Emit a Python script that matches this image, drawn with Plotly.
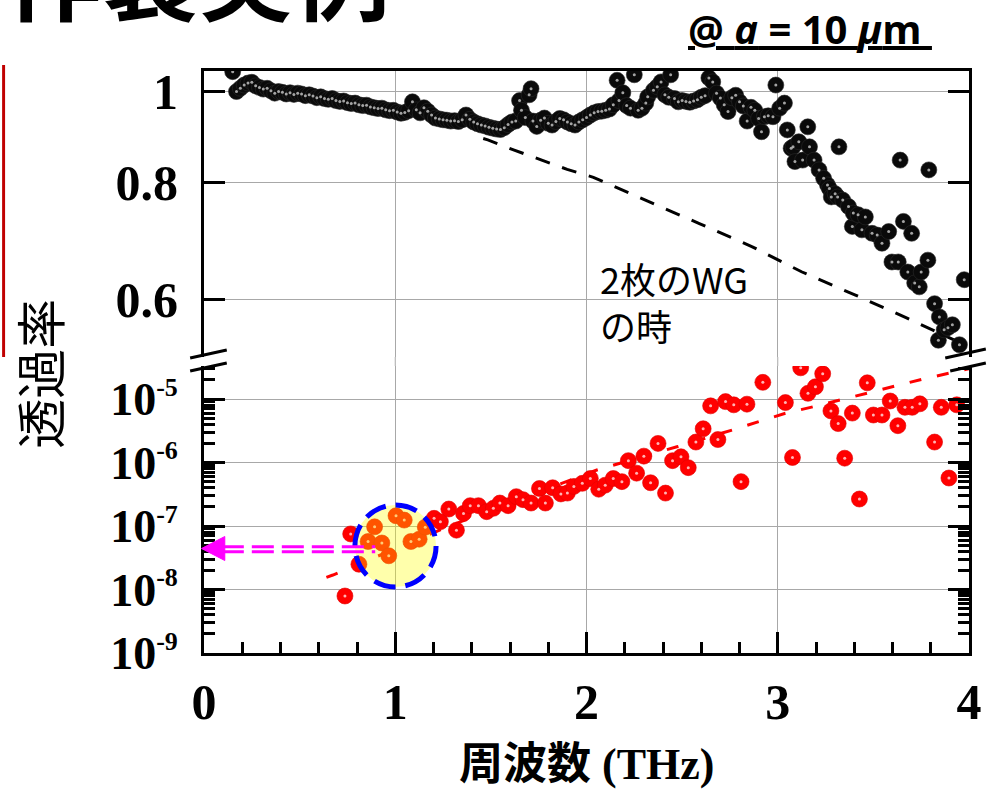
import plotly.graph_objects as go

# ---------------- data ----------------
black_x = [0.15, 0.17, 0.19, 0.21, 0.23, 0.25, 0.27, 0.29, 0.31, 0.33, 0.35, 0.37, 0.39, 0.41, 0.43, 0.45,
           0.47, 0.49, 0.51, 0.53, 0.55, 0.57, 0.59, 0.61, 0.63, 0.65, 0.67, 0.69, 0.71, 0.73, 0.75, 0.77,
           0.79, 0.81, 0.83, 0.85, 0.87, 0.89, 0.91, 0.93, 0.95, 0.97, 0.99, 1.01, 1.03, 1.05, 1.07, 1.09,
           1.11, 1.13, 1.15, 1.17, 1.19, 1.21, 1.23, 1.25, 1.27, 1.29, 1.31, 1.33, 1.35, 1.37, 1.39, 1.41,
           1.43, 1.45, 1.47, 1.49, 1.51, 1.53, 1.55, 1.57, 1.59, 1.61, 1.63, 1.65, 1.66, 1.68, 1.70, 1.71,
           1.72, 1.74, 1.76, 1.78, 1.80, 1.82, 1.84, 1.86, 1.88, 1.90, 1.92, 1.94, 1.96, 1.98, 2.00, 2.02,
           2.04, 2.06, 2.08, 2.10, 2.12, 2.14, 2.16, 2.17, 2.19, 2.21, 2.23, 2.25, 2.27, 2.29, 2.31, 2.32,
           2.35, 2.37, 2.39, 2.41, 2.43, 2.44, 2.46, 2.48, 2.50, 2.52, 2.54, 2.56, 2.58, 2.60, 2.62, 2.64,
           2.66, 2.68, 2.70, 2.72, 2.74, 2.76, 2.78, 2.80, 2.82, 2.84, 2.86, 2.88, 2.90, 2.915, 2.93, 2.95,
           2.975, 2.99, 3.01, 3.035, 3.05, 3.07, 3.08, 3.09, 3.11, 3.13, 3.157, 3.166, 3.19, 3.216, 3.24,
           3.26, 3.27, 3.28, 3.30, 3.313, 3.32, 3.34, 3.37, 3.39, 3.395, 3.42, 3.44, 3.458, 3.493, 3.52,
           3.545, 3.58, 3.597, 3.63, 3.64, 3.657, 3.68, 3.70, 3.716, 3.74, 3.75, 3.785, 3.79, 3.82, 3.84,
           3.845, 3.87, 3.89, 3.913, 3.95, 3.975]
black_y = [1.050, 1.000, 1.008, 1.016, 1.021, 1.023, 1.014, 1.010, 1.006, 1.008, 1.002, 0.996, 1.000, 0.998,
           0.994, 0.997, 0.993, 0.996, 0.994, 0.990, 0.992, 0.989, 0.985, 0.987, 0.983, 0.981, 0.983, 0.978,
           0.976, 0.977, 0.973, 0.971, 0.972, 0.968, 0.966, 0.967, 0.963, 0.961, 0.959, 0.960, 0.956, 0.954,
           0.955, 0.951, 0.948, 0.950, 0.954, 0.975, 0.956, 0.949, 0.961, 0.953, 0.944, 0.937, 0.935, 0.933,
           0.932, 0.930, 0.931, 0.929, 0.933, 0.944, 0.934, 0.928, 0.924, 0.921, 0.919, 0.916, 0.914, 0.912,
           0.911, 0.915, 0.922, 0.928, 0.930, 0.978, 0.955, 0.938, 0.992, 1.007, 0.930, 0.918, 0.932, 0.937,
           0.925, 0.921, 0.929, 0.936, 0.933, 0.928, 0.924, 0.921, 0.928, 0.933, 0.938, 0.944, 0.949, 0.952,
           0.953, 0.955, 0.958, 0.968, 1.028, 0.978, 0.997, 0.966, 0.960, 1.042, 0.955, 0.960, 0.972, 0.987,
           1.003, 1.012, 1.024, 0.992, 0.986, 1.042, 0.983, 0.975, 0.978, 0.976, 0.974, 0.977, 0.980, 0.986,
           0.990, 1.034, 1.024, 0.996, 0.984, 0.968, 0.952, 0.985, 0.991, 0.975, 0.965, 0.930, 0.962, 0.955,
           0.936, 0.906, 0.940, 0.942, 0.940, 1.016, 0.960, 0.972, 0.910, 0.870, 0.873, 0.842, 0.884, 0.845,
           0.917, 0.873, 0.845, 0.825, 0.808, 0.795, 0.788, 0.772, 0.778, 0.772, 0.873, 0.766, 0.754, 0.718,
           0.742, 0.739, 0.712, 0.735, 0.706, 0.703, 0.689, 0.709, 0.658, 0.658, 0.845, 0.727, 0.642, 0.706,
           0.625, 0.619, 0.642, 0.661, 0.825, 0.594, 0.543, 0.575, 0.557, 0.560, 0.564, 0.537, 0.630]

red_x = [0.737, 0.767, 0.81, 0.858, 0.892, 0.93, 0.966, 1.004, 1.047, 1.082, 1.125, 1.157, 1.203, 1.236,
         1.28, 1.32, 1.357, 1.392, 1.435, 1.478, 1.513, 1.547, 1.59, 1.633, 1.668, 1.71, 1.754, 1.785,
         1.823, 1.866, 1.90, 1.934, 1.978, 2.02, 2.064, 2.098, 2.14, 2.185, 2.219, 2.262, 2.30, 2.335,
         2.374, 2.413, 2.45, 2.494, 2.532, 2.572, 2.61, 2.649, 2.687, 2.727, 2.77, 2.808, 2.839, 2.922,
         3.04, 3.077, 3.12, 3.158, 3.197, 3.235, 3.278, 3.316, 3.35, 3.39, 3.427, 3.468, 3.50, 3.545,
         3.588, 3.628, 3.665, 3.703, 3.743, 3.82, 3.855, 3.895, 3.936]
red_y = [7.9e-9, 7.5e-8, 2.5e-8, 5.7e-8, 9.7e-8, 5.4e-8, 3.4e-8, 1.45e-7, 1.24e-7, 5.7e-8, 6.2e-8, 9.6e-8,
         1.32e-7, 1.17e-7, 1.85e-7, 8.6e-8, 1.58e-7, 2.09e-7, 2.09e-7, 1.68e-7, 1.9e-7, 2.3e-7, 2.09e-7,
         2.9e-7, 2.6e-7, 2.3e-7, 3.9e-7, 2.3e-7, 4.0e-7, 3.2e-7, 3.3e-7, 4.2e-7, 4.7e-7, 5.6e-7, 3.8e-7,
         4.4e-7, 5.6e-7, 5.0e-7, 1.07e-6, 6.8e-7, 1.26e-6, 4.8e-7, 2.0e-6, 3.3e-7, 1.07e-6, 1.23e-6, 8.3e-7,
         2.1e-6, 3.4e-6, 7.8e-6, 2.3e-6, 9.1e-6, 8.1e-6, 5.0e-7, 8.3e-6, 1.83e-5, 8.8e-6, 1.2e-6, 3.1e-5,
         1.23e-5, 1.56e-5, 2.5e-5, 6.5e-6, 4.1e-6, 1.17e-6, 6.0e-6, 2.66e-7, 1.8e-5, 5.6e-6, 5.6e-6, 9.3e-6,
         3.8e-6, 7.4e-6, 7.4e-6, 8.4e-6, 2.1e-6, 7.4e-6, 5.7e-7, 8.1e-6]

wg2_x = [1.46, 1.484, 1.622, 1.759, 1.899, 2.036, 2.313, 2.59, 2.867, 3.127, 3.403, 3.679, 3.95]
wg2_y = [0.891, 0.888, 0.866, 0.846, 0.826, 0.810, 0.766, 0.723, 0.683, 0.642, 0.607, 0.573, 0.540]

fit_x = [0.64, 0.674, 1.30, 1.911, 2.054, 2.184, 2.473, 2.762, 2.897, 3.04, 3.187, 3.329, 3.472, 3.614,
         3.752, 3.913, 4.0]
fit_y = [1.55e-8, 1.69e-8, 1.05e-7, 5.30e-7, 7.62e-7, 9.93e-7, 1.77e-6, 3.25e-6, 4.40e-6, 5.96e-6,
         7.57e-6, 9.64e-6, 1.26e-5, 1.60e-5, 2.04e-5, 2.63e-5, 3.0e-5]

top_ticks = [0.6, 0.8, 1.0]
top_ticktext = ["0.6", "0.8", "1"]
bot_ticks = [1e-9, 1e-8, 1e-7, 1e-6, 1e-5]
bot_ticktext = ["10<sup><span style='font-size:26px'>-9</span></sup>",
                "10<sup><span style='font-size:26px'>-8</span></sup>",
                "10<sup><span style='font-size:26px'>-7</span></sup>",
                "10<sup><span style='font-size:26px'>-6</span></sup>",
                "10<sup><span style='font-size:26px'>-5</span></sup>"]
x_ticks = [0, 1, 2, 3, 4]
x_ticktext = ["0", "1", "2", "3", "4"]

# ---------------- geometry helpers (pixels -> paper) ----------------
W, H = 994, 792
L, R, T, B = 204, 977, 71, 653


def PX(px):
    return (px - L) / (R - L)


def PY(py):
    return (B - py) / (B - T)


bottom_dom = [0, PY(366)]
top_dom = [PY(357), 1]

serif = "Liberation Serif, Times New Roman, serif"
cjk = "Noto Sans CJK JP"

fig = go.Figure()

# top panel
fig.add_trace(go.Scatter(x=wg2_x, y=wg2_y, xaxis="x2", yaxis="y2", mode="lines",
                         line=dict(color="black", width=3, dash="15px,13px"), hoverinfo="skip"))
fig.add_trace(go.Scatter(x=black_x, y=black_y, xaxis="x2", yaxis="y2", mode="markers",
                         marker=dict(size=16, color="#0a0a0a", line=dict(color="#2a2a2a", width=0.6))))
fig.add_trace(go.Scatter(x=black_x, y=black_y, xaxis="x2", yaxis="y2", mode="markers",
                         marker=dict(size=3, color="rgba(190,190,190,0.85)", line=dict(width=0))))

# bottom panel
fig.add_trace(go.Scatter(x=fit_x, y=fit_y, xaxis="x", yaxis="y", mode="lines",
                         line=dict(color="#ff0000", width=3, dash="12px,16px"), hoverinfo="skip"))
fig.add_trace(go.Scatter(x=red_x, y=red_y, xaxis="x", yaxis="y", mode="markers",
                         marker=dict(size=16, color="#ff0000", line=dict(color="#e00000", width=0.6))))
fig.add_trace(go.Scatter(x=red_x, y=red_y, xaxis="x", yaxis="y", mode="markers",
                         marker=dict(size=3, color="rgba(255,200,200,0.9)", line=dict(width=0))))

axis_common = dict(showline=True, linecolor="black", linewidth=3, gridcolor="#a8a8a8", gridwidth=1,
                   zeroline=False, tickcolor="black")

fig.update_layout(
    width=W, height=H,
    margin=dict(l=L, r=W - R, t=T, b=H - B),
    paper_bgcolor="white", plot_bgcolor="white",
    showlegend=False,
    xaxis=dict(domain=[0, 1], anchor="y", range=[0, 4], tickvals=x_ticks, ticktext=x_ticktext,
               ticks="inside", ticklen=21, tickwidth=3, mirror=False, showgrid=True,
               minor=dict(ticks="inside", ticklen=11, tickwidth=2.5, tickcolor="black", dtick=0.2,
                          tick0=0, showgrid=False),
               tickfont=dict(family=serif, size=50, color="black", weight="bold"),
               ticklabelstandoff=3, **axis_common),
    xaxis2=dict(domain=[0, 1], anchor="y2", range=[0, 4], side="top", tickvals=x_ticks,
                ticks="", showticklabels=False, mirror=False, showgrid=True, matches="x", **axis_common),
    yaxis=dict(domain=bottom_dom, anchor="x", type="log", range=[-9, -4.48], tickvals=bot_ticks,
               ticktext=bot_ticktext, ticks="inside", ticklen=21, tickwidth=3, mirror="ticks",
               showgrid=True,
               minor=dict(ticks="inside", ticklen=11, tickwidth=2.5, tickcolor="black",
                          tickvals=[m * 10.0 ** e for e in range(-9, -4) for m in range(2, 10)],
                          showgrid=False),
               tickfont=dict(family=serif, size=46, color="black", weight="bold"),
               ticklabelstandoff=14, **axis_common),
    yaxis2=dict(domain=top_dom, anchor="x2", type="log", range=[-0.2831, 0.0219], tickvals=top_ticks,
                ticktext=top_ticktext, ticks="inside", ticklen=21, tickwidth=3, mirror="ticks",
                showgrid=True, tickfont=dict(family=serif, size=50, color="black", weight="bold"),
                ticklabelstandoff=13, **axis_common),
)

shapes = []
# highlighted region (semi-transparent yellow, blue dashed border)
cx, cy, rad = 397.5, 546, 41
shapes.append(dict(type="circle", xref="paper", yref="paper", layer="above",
                   x0=PX(cx - rad), x1=PX(cx + rad), y0=PY(cy + rad), y1=PY(cy - rad),
                   fillcolor="rgba(255,255,0,0.33)", line=dict(color="#0000ff", width=5, dash="22px,10px")))
# magenta double dashed arrow
for yy in (546.7, 551.7):
    shapes.append(dict(type="line", xref="paper", yref="paper", layer="above",
                       x0=PX(222), x1=PX(377), y0=PY(yy), y1=PY(yy),
                       line=dict(color="#ff00ff", width=3, dash="22px,8px")))
shapes.append(dict(type="path", xref="paper", yref="paper", layer="above",
                   path=f"M {PX(201.5)},{PY(548.5)} L {PX(225)},{PY(536.5)} L {PX(225)},{PY(560.5)} Z",
                   fillcolor="#ff00ff", line=dict(color="#ff00ff", width=1)))
# axis break marks
for (x0, y0, x1, y1) in [(190, 358, 227, 350), (190, 371, 227, 363), (953, 358, 994, 349),
                         (958, 371, 994, 363)]:
    shapes.append(dict(type="line", xref="paper", yref="paper", layer="above",
                       x0=PX(x0), y0=PY(y0), x1=PX(x1), y1=PY(y1), line=dict(color="black", width=3)))
# grid continuation through the break
for gx in (1, 2, 3):
    shapes.append(dict(type="line", xref="x", yref="paper", layer="below", x0=gx, x1=gx,
                       y0=PY(366), y1=PY(357), line=dict(color="#a8a8a8", width=1)))
# red slide decoration bar
shapes.append(dict(type="rect", xref="paper", yref="paper", x0=PX(0), x1=PX(3), y0=PY(357), y1=PY(65),
                   fillcolor="#c00000", line=dict(width=0)))
fig.update_layout(shapes=shapes)

annotations = [
    dict(text="2枚のWG<br>の時", x=PX(602), y=PY(301), xref="paper", yref="paper", xanchor="left",
         yanchor="middle", align="left", showarrow=False,
         font=dict(family=cjk, size=36, color="black")),
    dict(text="<b><u>@ <i>a</i> = 10 <i>μ</i>m </u></b>", x=PX(816), y=PY(28), xref="paper", yref="paper",
         xanchor="center", yanchor="middle", showarrow=False,
         font=dict(family="Open Sans, Noto Sans, sans-serif", size=40, color="black")),
    dict(text="透過率", x=PX(36), y=PY(374), xref="paper", yref="paper", textangle=-90,
         xanchor="center", yanchor="middle", showarrow=False,
         font=dict(family=cjk, size=50, color="black")),
    dict(text="<b>周波数 (THz)</b>", x=PX(590), y=PY(764), xref="paper", yref="paper",
         xanchor="center", yanchor="middle", showarrow=False,
         font=dict(family=serif + ", " + cjk, size=44, color="black")),
    dict(text="<b>作製実例</b>", x=PX(2), y=PY(43), xref="paper", yref="paper",
         xanchor="left", yanchor="bottom", showarrow=False,
         font=dict(family=cjk, size=96, color="black")),
]
fig.update_layout(annotations=annotations)

fig.write_html("out.html")
